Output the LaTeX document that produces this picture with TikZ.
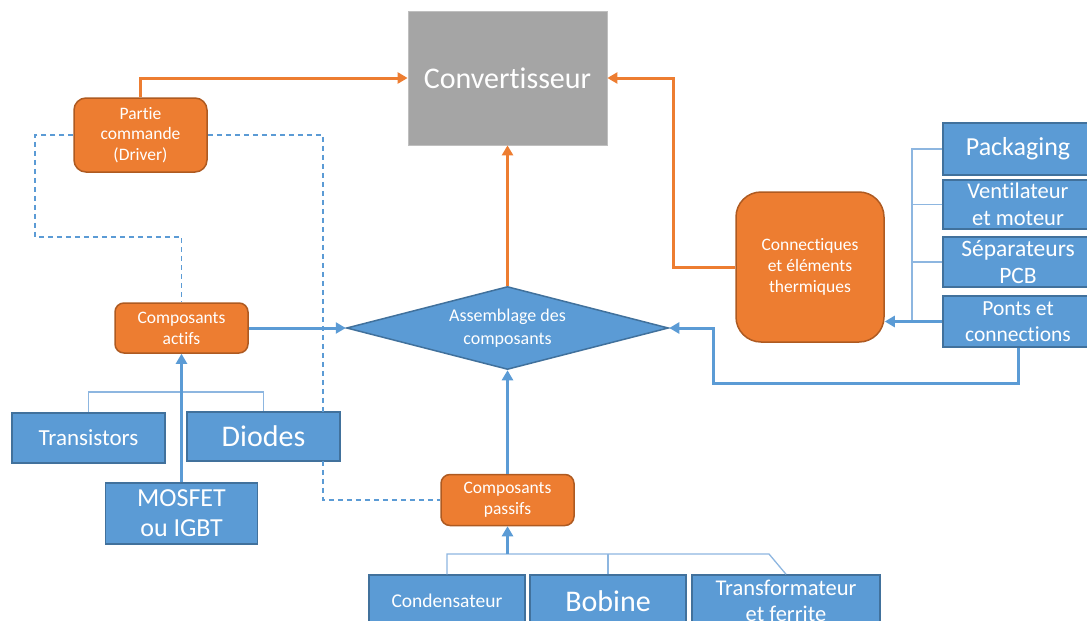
\documentclass[tikz,border=0pt]{standalone}
\usepackage{fontspec}
\setmainfont{Carlito}[Ligatures=NoCommon]
\usetikzlibrary{shapes.geometric,arrows.meta}
\definecolor{bfill}{HTML}{5B9BD5}
\definecolor{bdraw}{HTML}{41719C}
\definecolor{bthin}{HTML}{8DB6E0}
\definecolor{ofill}{HTML}{ED7D31}
\definecolor{odraw}{HTML}{AE5A21}
\definecolor{gfill}{HTML}{A5A5A5}
\definecolor{gdraw}{HTML}{BFBFBF}
\newcommand{\fs}[2]{\fontsize{#1}{#2}\selectfont}
\tikzset{
  bluebox/.style={draw=bdraw, fill=bfill, line width=1.5pt, text=white, inner sep=0pt, align=center},
  orangebox/.style={draw=odraw, fill=ofill, line width=1.5pt, text=white, inner sep=0pt, align=center, rounded corners=#1},
  orangebox/.default=9pt,
  oarrow/.style={draw=ofill, line width=3pt, -{Triangle[length=10pt,width=11pt]}},
  barrow/.style={draw=bfill, line width=3pt, -{Triangle[length=10pt,width=11pt]}},
  bthinline/.style={draw=bthin, line width=1.3pt},
  bdashed/.style={draw=bfill, line width=1.4pt, dash pattern=on 5pt off 4pt},
}
\begin{document}
\begin{tikzpicture}[x=1pt,y=-1pt]
\useasboundingbox (0,0) rectangle (1087,621);
\clip (0,0) rectangle (1087,621);
% nodes
\node[draw=gdraw, fill=gfill, line width=0.8pt, text=white, inner sep=0pt, minimum width=199pt, minimum height=134pt, font=\fs{30}{36}] (conv) at (507.5,78) {Convertisseur};
\node[orangebox=12pt, minimum width=133pt, minimum height=74pt, font=\fs{17.5}{20.5}] (drv) at (140.5,135) {Partie\\commande\\(Driver)};
\node[orangebox=9pt, minimum width=133pt, minimum height=50pt, font=\fs{17.5}{21}] (act) at (181.5,328) {Composants\\actifs};
\node[diamond, aspect=3.88, draw=bdraw, fill=bfill, line width=1.5pt, text=white, inner sep=0pt, align=center, minimum width=322pt, minimum height=83pt, font=\fs{18}{23}] (asm) at (507.5,328) {Assemblage des\\composants};
\node[orangebox=9pt, minimum width=133pt, minimum height=51pt, font=\fs{17.5}{21}] (pas) at (507.5,500) {Composants\\passifs};
\node[orangebox=25pt, minimum width=148pt, minimum height=150pt, font=\fs{17.5}{21}] (con) at (810,267) {Connectiques\\et éléments\\thermiques};

\node[bluebox, minimum width=153pt, minimum height=50pt, font=\fs{23}{27}] (trans) at (88.5,438) {Transistors};
\node[bluebox, minimum width=153pt, minimum height=49pt, font=\fs{30}{34}] (diod) at (263.5,436.5) {Diodes};
\node[bluebox, minimum width=152pt, minimum height=61pt, font=\fs{26}{30}] (mos) at (181.5,513.5) {MOSFET\\ou IGBT};
\node[bluebox, minimum width=156pt, minimum height=52pt, font=\fs{19.5}{24}] (cond) at (447,601) {Condensateur};
\node[bluebox, minimum width=156pt, minimum height=52pt, font=\fs{30}{34}] (bob) at (608,601) {Bobine};
\node[bluebox, minimum width=188pt, minimum height=52pt, font=\fs{22.5}{25.5}] (trf) at (786,601) {Transformateur\\et ferrite};

\node[bluebox, minimum width=150pt, minimum height=52pt, font=\fs{26}{30}] (pack) at (1018,149) {Packaging};
\node[bluebox, minimum width=150pt, minimum height=49pt, font=\fs{22.5}{27}] (vent) at (1018,204.5) {Ventilateur\\et moteur};
\node[bluebox, minimum width=150pt, minimum height=50pt, font=\fs{23.5}{27}] (sep) at (1018,262) {Séparateurs\\PCB};
\node[bluebox, minimum width=150pt, minimum height=51pt, font=\fs{21.5}{26}] (ponts) at (1018,321.5) {Ponts et\\connections};

% coordinates
\coordinate (cr) at (673,267);
\coordinate (pl) at (713,383);
\coordinate (bus) at (912,321.5);
\coordinate (tb) at (182,392);
\coordinate (tk) at (769,554);
\coordinate (d1) at (35,237);
\coordinate (d2) at (323,500);

% dashed control links
\draw[bdashed] (drv.west) -| (d1) -| (act.north);
\draw[bdashed] (drv.east) -| (d2) -- (pas.west);

% thin brackets
\draw[bthinline] (trans.north) |- (diod.north |- tb) -- (diod.north);
\draw[bthinline] (cond.north) |- (tk) -- (trf.north);
\draw[bthinline] (bob.north) -- (bob.north |- tk);
\draw[bthinline] (pack.west) -| (bus);
\draw[bthinline] (vent.west) -- (vent.west -| bus);
\draw[bthinline] (sep.west) -- (sep.west -| bus);

% orange arrows
\draw[oarrow] (drv.north) |- (conv.west);
\draw[oarrow] (asm.north) -- (conv.south);
\draw[oarrow] (con.west) -- (cr) |- (conv.east);

% blue arrows
\draw[barrow] (act.east) -- (asm.west);
\draw[barrow, line width=2.2pt] (mos.north) -- (act.south);
\draw[barrow] (pas.north) -- (asm.south);
\draw[barrow] (pas.south |- tk) -- (pas.south);
\draw[barrow] (ponts.south) |- (pl) |- (asm.east);
\draw[barrow] (ponts.west) -- (ponts.west -| con.east);
\end{tikzpicture}
\end{document}
